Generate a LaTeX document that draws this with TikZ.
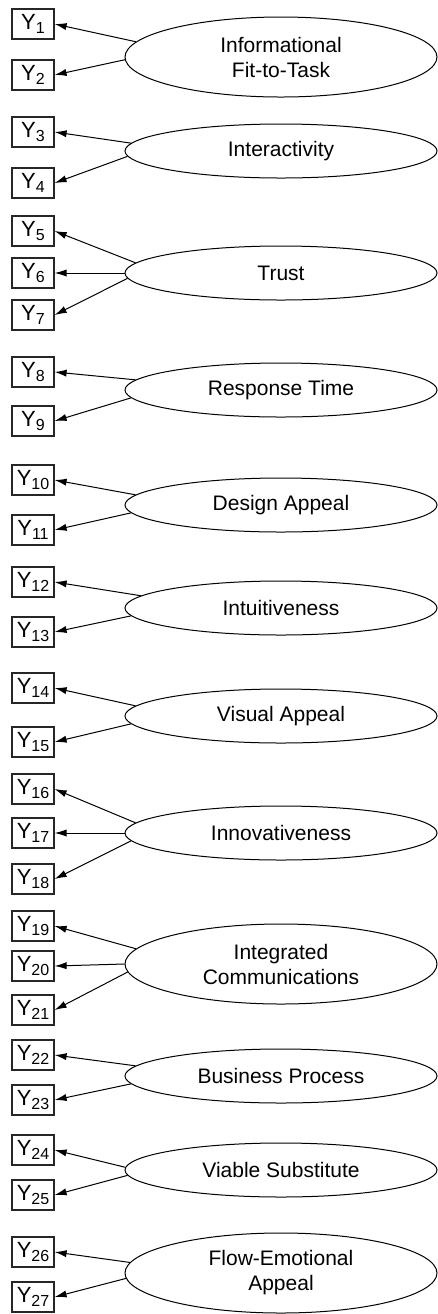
\documentclass[tikz,border=0pt]{standalone}
\usepackage{fontspec}
\setmainfont{Liberation Sans}
\usetikzlibrary{shapes.geometric,arrows.meta}

\newcommand{\yi}[1]{Y\raisebox{-2.2pt}{\fontsize{8}{8}\selectfont #1}}

\begin{document}
\begin{tikzpicture}[x=0.5pt,y=-0.5pt,
  font=\fontsize{10.5}{12.5}\selectfont,
  ind/.style={draw=black!85,line width=0.6pt,minimum width=21pt,minimum height=15pt,inner sep=0pt,font=\fontsize{11}{12}\selectfont},
  lat/.style={draw,ellipse,line width=0.5pt,minimum width=156pt,minimum height=27pt,inner sep=0pt,align=center},
  tall/.style={minimum height=40pt},
  arr/.style={-{Latex[length=6pt,width=3.6pt]},line width=0.5pt}]
 \useasboundingbox (0,0) rectangle (438,1314);
 \node[lat,tall] (inf) at (281,57) {Informational\\Fit-to-Task};
 \node[lat] (inter) at (281,151) {Interactivity};
 \node[lat] (trust) at (281,273) {Trust};
 \node[lat] (resp) at (281,390) {Response Time};
 \node[lat] (design) at (281,505) {Design Appeal};
 \node[lat] (intuit) at (281,608) {Intuitiveness};
 \node[lat] (visual) at (281,716) {Visual Appeal};
 \node[lat] (innov) at (281,833) {Innovativeness};
 \node[lat,tall] (integ) at (281,964) {Integrated\\Communications};
 \node[lat] (busi) at (281,1076) {Business Process};
 \node[lat] (viable) at (281,1170) {Viable Substitute};
 \node[lat,tall] (flow) at (281,1273) {Flow-Emotional\\Appeal};
 \node[ind] (y1) at (33,24) {\yi{1}}; \draw[arr] (inf.174) -- (y1.east);
 \node[ind] (y2) at (33,75) {\yi{2}}; \draw[arr] (inf.181) -- (y2.east);
 \node[ind] (y3) at (33,132) {\yi{3}}; \draw[arr] (inter.177) -- (y3.east);
 \node[ind] (y4) at (33,183) {\yi{4}}; \draw[arr] (inter.182) -- (y4.east);
 \node[ind] (y5) at (33,231) {\yi{5}}; \draw[arr] (trust.176.5) -- (y5.east);
 \node[ind] (y6) at (33,273) {\yi{6}}; \draw[arr] (trust.180) -- (y6.east);
 \node[ind] (y7) at (33,315) {\yi{7}}; \draw[arr] (trust.182.5) -- (y7.east);
 \node[ind] (y8) at (33,372) {\yi{8}}; \draw[arr] (resp.176.5) -- (y8.east);
 \node[ind] (y9) at (33,421) {\yi{9}}; \draw[arr] (resp.183) -- (y9.east);
 \node[ind] (y10) at (33,480) {\yi{10}}; \draw[arr] (design.176.5) -- (y10.east);
 \node[ind] (y11) at (33,530) {\yi{11}}; \draw[arr] (design.183) -- (y11.east);
 \node[ind] (y12) at (33,582) {\yi{12}}; \draw[arr] (intuit.175.5) -- (y12.east);
 \node[ind] (y13) at (33,632) {\yi{13}}; \draw[arr] (intuit.183.5) -- (y13.east);
 \node[ind] (y14) at (33,688) {\yi{14}}; \draw[arr] (visual.176.5) -- (y14.east);
 \node[ind] (y15) at (33,742) {\yi{15}}; \draw[arr] (visual.183) -- (y15.east);
 \node[ind] (y16) at (33,789) {\yi{16}}; \draw[arr] (innov.176) -- (y16.east);
 \node[ind] (y17) at (33,833) {\yi{17}}; \draw[arr] (innov.180) -- (y17.east);
 \node[ind] (y18) at (33,879) {\yi{18}}; \draw[arr] (innov.183) -- (y18.east);
 \node[ind] (y19) at (33,926) {\yi{19}}; \draw[arr] (integ.174.5) -- (y19.east);
 \node[ind] (y20) at (33,966) {\yi{20}}; \draw[arr] (integ.180) -- (y20.east);
 \node[ind] (y21) at (33,1010) {\yi{21}}; \draw[arr] (integ.183.8) -- (y21.east);
 \node[ind] (y22) at (33,1055) {\yi{22}}; \draw[arr] (busi.176.5) -- (y22.east);
 \node[ind] (y23) at (33,1100) {\yi{23}}; \draw[arr] (busi.183) -- (y23.east);
 \node[ind] (y24) at (33,1150) {\yi{24}}; \draw[arr] (viable.179) -- (y24.east);
 \node[ind] (y25) at (33,1195) {\yi{25}}; \draw[arr] (viable.182) -- (y25.east);
 \node[ind] (y26) at (33,1252) {\yi{26}}; \draw[arr] (flow.176) -- (y26.east);
 \node[ind] (y27) at (33,1297) {\yi{27}}; \draw[arr] (flow.182) -- (y27.east);
\end{tikzpicture}
\end{document}
